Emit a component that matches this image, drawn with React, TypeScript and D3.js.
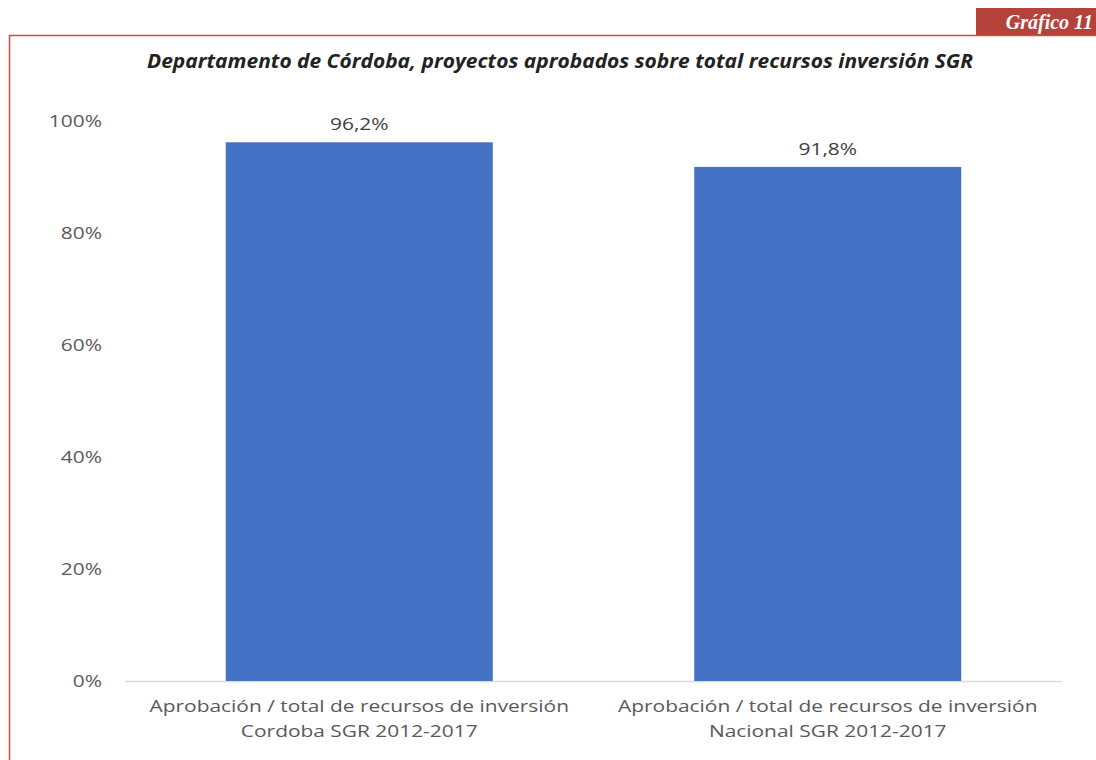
import React from "react";
import * as d3 from "d3";

const categories = [
  ["Aprobación / total de recursos de inversión", "Cordoba SGR 2012-2017"],
  ["Aprobación / total de recursos de inversión", "Nacional SGR 2012-2017"],
];
const values = [0.962, 0.918];
const valueLabels = ["96,2%", "91,8%"];
const yTicks = [0, 0.2, 0.4, 0.6, 0.8, 1.0];
const title = "Departamento de Córdoba, proyectos aprobados sobre total recursos inversión SGR";
const banner = "Gráfico 11";

const font = "'Open Sans', 'DejaVu Sans', sans-serif";
const SX = 1.23;

function WideText({ x, y, anchor, children, fill }: { x: number; y: number; anchor: string; children: React.ReactNode; fill: string }) {
  return (
    <g transform={`translate(${x},${y}) scale(${SX},1)`}>
      <text x={0} y={0} textAnchor={anchor} fontFamily={font} fontSize={17} fill={fill}>{children}</text>
    </g>
  );
}

export default function App() {
  const W = 1096, H = 760;
  const x = d3.scaleBand<number>().domain(d3.range(values.length)).range([125, 1062]).paddingInner(0.43).paddingOuter(0.215);
  const y = d3.scaleLinear().domain([0, 1]).range([681, 121]);
  return (
    <svg width={W} height={H} style={{ position: "absolute", left: 0, top: 0 }}>
      <rect width={W} height={H} fill="#fff" />
      <rect x={976} y={8} width={130} height={27} fill="#b5423a" />
      <text x={1093} y={29} textAnchor="end" fill="#fff" fontFamily="'Liberation Serif', serif" fontStyle="italic" fontWeight="bold" fontSize={20}>{banner}</text>
      <line x1={9} x2={W} y1={35.5} y2={35.5} stroke="#d04a44" strokeWidth={1.5} />
      <line x1={9.5} x2={9.5} y1={35} y2={H} stroke="#d04a44" strokeWidth={1.5} />
      <text x={560} y={68} textAnchor="middle" fontFamily={font} fontStyle="italic" fontWeight="bold" fontSize={19} fill="#222" textLength={826} lengthAdjust="spacingAndGlyphs">{title}</text>
      {yTicks.map((t) => (
        <WideText key={t} x={102} y={y(t) + 6} anchor="end" fill="#595959">{d3.format(".0%")(t)}</WideText>
      ))}
      <line x1={125} x2={1062} y1={681.5} y2={681.5} stroke="#d9d9d9" strokeWidth={1.5} />
      {values.map((v, i) => (
        <g key={i}>
          <rect x={x(i)} y={y(v)} width={x.bandwidth()} height={y(0) - y(v)} fill="#4472c4" />
          <WideText x={x(i)! + x.bandwidth() / 2} y={y(v) - 12} anchor="middle" fill="#404040">{valueLabels[i]}</WideText>
          {categories[i].map((line, j) => (
            <WideText key={j} x={x(i)! + x.bandwidth() / 2} y={712 + j * 25} anchor="middle" fill="#595959">{line}</WideText>
          ))}
        </g>
      ))}
    </svg>
  );
}
